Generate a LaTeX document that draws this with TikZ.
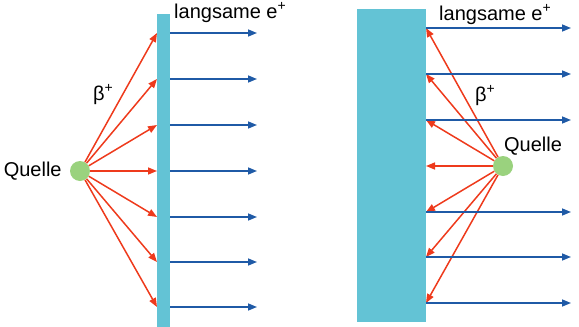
\documentclass[tikz,border=0pt]{standalone}
\usepackage{fontspec}
\setmainfont{Liberation Sans}
\usepackage{xcolor}
\usepackage{tikz}
\usetikzlibrary{positioning,arrows.meta}
\definecolor{cFoil}{HTML}{63C3D5}
\definecolor{cBeta}{HTML}{EE3A1C}
\definecolor{cSlow}{HTML}{1F5AA6}
\definecolor{cSrc} {HTML}{9AD27E}
\newcommand\plussup{\raisebox{0.4em}{\fontsize{14}{14}\selectfont +}}
\tikzset{
  foil/.style={rectangle,fill=cFoil,draw=none,inner sep=0pt,anchor=north west},
  src/.style ={circle,fill=cSrc,draw=none,minimum size=20pt,inner sep=0pt},
  lbl/.style ={inner sep=0pt,font=\fontsize{20}{24}\selectfont},
  ray/.style ={-{Triangle[length=9pt,width=7pt]},line width=1.5pt,cBeta},
  slow/.style={-{Triangle[length=9pt,width=7pt]},line width=1.5pt,cSlow},
}
\begin{document}
\begin{tikzpicture}[x=1pt,y=-1pt,node distance=8pt]
    \useasboundingbox (0,0) rectangle (579,327);
    % left: thin foil, source in front
    \node[foil,minimum width=13pt,minimum height=313pt] (foilL) at (157,14) {};
    \node[src] (srcL) at (80,171) {};
    \node[lbl,left=of srcL] (qL) {Quelle};
    \node[lbl] (bL) at (103,95) {β\plussup};
    \node[lbl] (eL) at (230,13) {langsame e\plussup};
    \foreach \y [count=\i] in {33,79,125,171,217,262,307}{
      \coordinate (inL\i) at (157,\y);
      \coordinate (outL\i) at (170,\y);
      \coordinate (endL\i) at (257,\y);
      \draw[ray] (srcL) -- (inL\i);
      \draw[slow] (outL\i) -- (endL\i);
    }
    % right: thick foil, source behind
    \node[foil,minimum width=69pt,minimum height=313pt] (foilR) at (357,9) {};
    \node[src] (srcR) at (503,166) {};
    \node[lbl] (qR) at (533,146) {Quelle};
    \node[lbl] (bR) at (485,96) {β\plussup};
    \node[lbl] (eR) at (495,15) {langsame e\plussup};
    \foreach \y [count=\i] in {28,74,120,166,212,257,303}{
      \coordinate (inR\i) at (426,\y);
      \draw[ray] (srcR) -- (inR\i);
    }
    \foreach \y [count=\i] in {28,74,120,212,257,303}{
      \coordinate (outR\i) at (426,\y);
      \coordinate (endR\i) at (571,\y);
      \draw[slow] (outR\i) -- (endR\i);
    }
\end{tikzpicture}
\end{document}
